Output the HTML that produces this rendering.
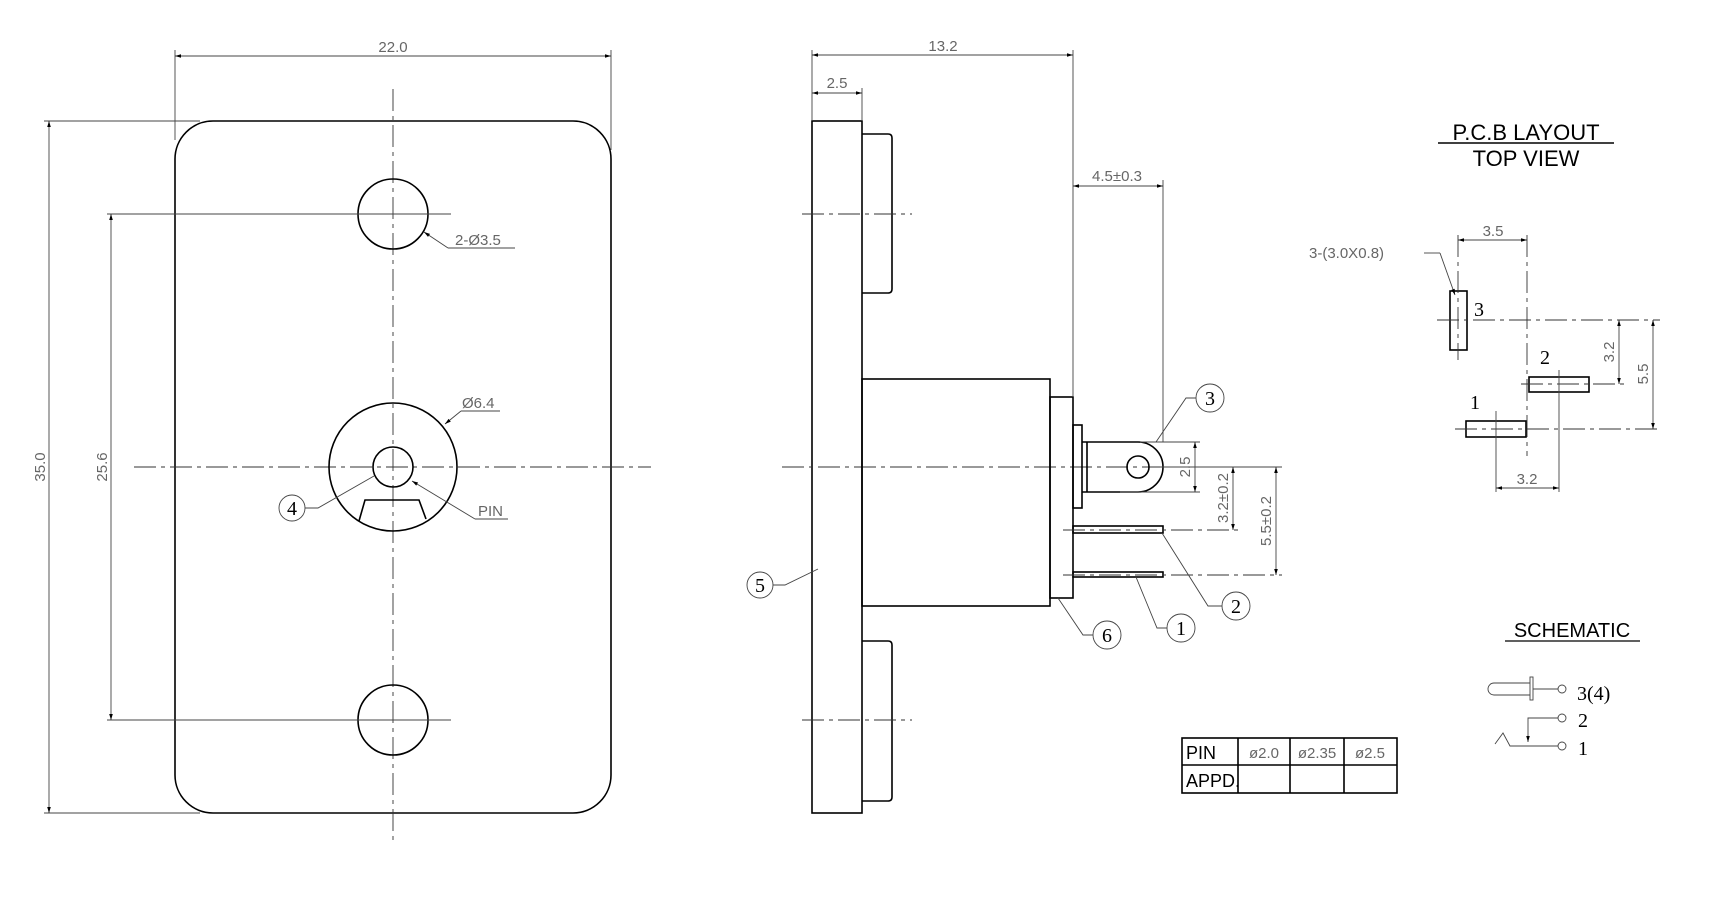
<!DOCTYPE html>
<html><head><meta charset="utf-8"><style>
html,body{margin:0;padding:0;background:#fff}
svg{display:block}
text{font-family:"Liberation Sans",sans-serif}
.d{fill:#666;font-size:15px}
.l{stroke:#000;stroke-width:1.6;fill:none}
.t{stroke:#444;stroke-width:0.9;fill:none}
.c{stroke:#333;stroke-width:0.9;fill:none;stroke-dasharray:22,5,4,5}
.n{font-family:"Liberation Serif",serif;font-size:20px;fill:#000}
</style></head><body>
<svg width="1736" height="898" viewBox="0 0 1736 898" xmlns="http://www.w3.org/2000/svg">
<defs>
<marker id="a" viewBox="0 0 10 10" refX="10" refY="5" markerWidth="10" markerHeight="6" orient="auto-start-reverse" markerUnits="userSpaceOnUse"><path d="M0,2 L10,5 L0,8z" fill="#000"/></marker>
</defs>
<!-- FRONT VIEW -->
<rect x="175" y="121" width="436" height="692" rx="38" class="l"/>
<line x1="134" y1="467" x2="651" y2="467" class="c"/>
<line x1="393" y1="89" x2="393" y2="841" class="c"/>
<circle cx="393" cy="214" r="35" class="l"/>
<circle cx="393" cy="720" r="35" class="l"/>
<circle cx="393" cy="467" r="64" class="l"/>
<circle cx="393" cy="467" r="20" class="l"/>
<path d="M359,521 L365,500 L419,500 L426,519" class="l"/>
<!-- horizontal extension lines 25.6 -->
<line x1="107" y1="214" x2="451" y2="214" class="t"/>
<line x1="107" y1="720" x2="451" y2="720" class="t"/>
<line x1="111" y1="214" x2="111" y2="720" class="t" marker-start="url(#a)" marker-end="url(#a)"/>
<text class="d" transform="translate(107,467) rotate(-90)" text-anchor="middle">25.6</text>
<!-- 35.0 -->
<line x1="44" y1="121" x2="200" y2="121" class="t"/>
<line x1="44" y1="813" x2="200" y2="813" class="t"/>
<line x1="49" y1="121" x2="49" y2="813" class="t" marker-start="url(#a)" marker-end="url(#a)"/>
<text class="d" transform="translate(45,467) rotate(-90)" text-anchor="middle">35.0</text>
<!-- 22.0 -->
<line x1="175" y1="50" x2="175" y2="140" class="t"/>
<line x1="611" y1="50" x2="611" y2="150" class="t"/>
<line x1="175" y1="56" x2="611" y2="56" class="t" marker-start="url(#a)" marker-end="url(#a)"/>
<text class="d" x="393" y="52" text-anchor="middle">22.0</text>
<!-- callouts -->
<path d="M448,248 L515,248" class="t"/><line x1="448" y1="248" x2="424" y2="232" class="t" marker-end="url(#a)"/>
<text class="d" x="455" y="245">2-Ø3.5</text>
<path d="M461,411 L500,411" class="t"/><line x1="461" y1="411" x2="445" y2="424" class="t" marker-end="url(#a)"/>
<text class="d" x="462" y="408">Ø6.4</text>
<circle cx="292" cy="508" r="13" class="t"/><text class="n" x="292" y="515" text-anchor="middle">4</text>
<path d="M305,508 L318,508 L374,476" class="t"/>
<path d="M475,519 L508,519" class="t"/><line x1="475" y1="519" x2="412" y2="481" class="t" marker-end="url(#a)"/>
<text class="d" x="478" y="516">PIN</text>
<!-- SIDE VIEW -->
<rect x="812" y="121" width="50" height="692" class="l"/>
<path d="M862,134 L888,134 Q892,134 892,138 L892,289 Q892,293 888,293 L862,293" class="l"/>
<path d="M862,641 L888,641 Q892,641 892,645 L892,797 Q892,801 888,801 L862,801" class="l"/>
<line x1="802" y1="214" x2="912" y2="214" class="c"/>
<line x1="802" y1="720" x2="912" y2="720" class="c"/>
<line x1="782" y1="467" x2="1160" y2="467" class="c"/>
<rect x="862" y="379" width="188" height="227" class="l"/>
<rect x="1050" y="397" width="23" height="201" class="l"/>
<rect x="1073" y="425" width="9" height="83" class="l"/>
<path d="M1082,442 L1138,442 A25,25 0 0 1 1138,492 L1082,492" class="l"/>
<line x1="1087" y1="442" x2="1087" y2="492" class="l"/>
<circle cx="1138" cy="467" r="11" class="l"/>
<rect x="1073" y="526" width="90" height="7" class="l" stroke-width="1.2"/>
<rect x="1073" y="572" width="90" height="5" class="l" stroke-width="1.2"/>
<line x1="1063" y1="530" x2="1240" y2="530" class="c"/>
<line x1="1063" y1="575" x2="1282" y2="575" class="c"/>
<!-- dims side -->
<line x1="812" y1="50" x2="812" y2="121" class="t"/>
<line x1="862" y1="88" x2="862" y2="121" class="t"/>
<line x1="1073" y1="50" x2="1073" y2="397" class="t"/>
<line x1="812" y1="55" x2="1073" y2="55" class="t" marker-start="url(#a)" marker-end="url(#a)"/>
<text class="d" x="943" y="51" text-anchor="middle">13.2</text>
<line x1="812" y1="93" x2="862" y2="93" class="t" marker-start="url(#a)" marker-end="url(#a)"/>
<text class="d" x="837" y="88" text-anchor="middle">2.5</text>
<line x1="1163" y1="180" x2="1163" y2="442" class="t"/>
<line x1="1073" y1="186" x2="1163" y2="186" class="t" marker-start="url(#a)" marker-end="url(#a)"/>
<text class="d" x="1117" y="181" text-anchor="middle">4.5±0.3</text>
<line x1="1140" y1="442" x2="1200" y2="442" class="t"/>
<line x1="1120" y1="492" x2="1200" y2="492" class="t"/>
<line x1="1160" y1="467" x2="1282" y2="467" class="t"/>
<line x1="1195" y1="442" x2="1195" y2="492" class="t" marker-start="url(#a)" marker-end="url(#a)"/>
<text class="d" transform="translate(1190,467) rotate(-90)" text-anchor="middle">2.5</text>
<line x1="1233" y1="467" x2="1233" y2="530" class="t" marker-start="url(#a)" marker-end="url(#a)"/>
<text class="d" transform="translate(1228,498) rotate(-90)" text-anchor="middle">3.2±0.2</text>
<line x1="1276" y1="467" x2="1276" y2="575" class="t" marker-start="url(#a)" marker-end="url(#a)"/>
<text class="d" transform="translate(1271,521) rotate(-90)" text-anchor="middle">5.5±0.2</text>
<!-- side callouts -->
<circle cx="1210" cy="398" r="14" class="t"/><text class="n" x="1210" y="405" text-anchor="middle">3</text>
<path d="M1196,398 L1186,398 L1156,442" class="t"/>
<circle cx="1236" cy="606" r="14" class="t"/><text class="n" x="1236" y="613" text-anchor="middle">2</text>
<path d="M1222,606 L1208,606 L1162,533" class="t"/>
<circle cx="1181" cy="628" r="14" class="t"/><text class="n" x="1181" y="635" text-anchor="middle">1</text>
<path d="M1167,628 L1157,628 L1136,577" class="t"/>
<circle cx="1107" cy="635" r="14" class="t"/><text class="n" x="1107" y="642" text-anchor="middle" fill="#666">6</text>
<path d="M1093,635 L1083,635 L1058,598" class="t"/>
<circle cx="760" cy="585" r="13" class="t"/><text class="n" x="760" y="592" text-anchor="middle">5</text>
<path d="M773,585 L785,585 L818,569" class="t"/>
<!-- table -->
<rect x="1182" y="738" width="215" height="55" class="l"/>
<line x1="1182" y1="765" x2="1397" y2="765" class="l"/>
<line x1="1238" y1="738" x2="1238" y2="793" class="l"/>
<line x1="1290" y1="738" x2="1290" y2="793" class="l"/>
<line x1="1344" y1="738" x2="1344" y2="793" class="l"/>
<text x="1186" y="759" font-size="18" fill="#000">PIN</text>
<text x="1186" y="787" font-size="18" fill="#000">APPD.</text>
<text class="d" x="1264" y="758" text-anchor="middle" font-size="14">ø2.0</text>
<text class="d" x="1317" y="758" text-anchor="middle" font-size="14">ø2.35</text>
<text class="d" x="1370" y="758" text-anchor="middle" font-size="14">ø2.5</text>
<!-- PCB -->
<text x="1526" y="140" text-anchor="middle" font-size="22" fill="#000">P.C.B LAYOUT</text>
<line x1="1438" y1="143" x2="1614" y2="143" stroke="#000" stroke-width="1.4"/>
<text x="1526" y="166" text-anchor="middle" font-size="22" fill="#000">TOP VIEW</text>
<rect x="1450" y="291" width="17" height="59" class="l"/>
<rect x="1529" y="377" width="60" height="15" class="l"/>
<rect x="1466" y="421" width="60" height="16" class="l"/>
<line x1="1437" y1="320" x2="1660" y2="320" class="c"/>
<line x1="1521" y1="384" x2="1628" y2="384" class="c"/>
<line x1="1455" y1="429" x2="1660" y2="429" class="c"/>
<line x1="1458" y1="235" x2="1458" y2="360" class="c"/>
<line x1="1527" y1="235" x2="1527" y2="456" class="c"/>
<line x1="1496" y1="411" x2="1496" y2="492" class="t"/>
<line x1="1559" y1="370" x2="1559" y2="492" class="t"/>
<line x1="1458" y1="240" x2="1527" y2="240" class="t" marker-start="url(#a)" marker-end="url(#a)"/>
<text class="d" x="1493" y="236" text-anchor="middle">3.5</text>
<line x1="1496" y1="488" x2="1559" y2="488" class="t" marker-start="url(#a)" marker-end="url(#a)"/>
<text class="d" x="1527" y="484" text-anchor="middle">3.2</text>
<line x1="1619" y1="320" x2="1619" y2="384" class="t" marker-start="url(#a)" marker-end="url(#a)"/>
<text class="d" transform="translate(1614,352) rotate(-90)" text-anchor="middle">3.2</text>
<line x1="1653" y1="320" x2="1653" y2="429" class="t" marker-start="url(#a)" marker-end="url(#a)"/>
<text class="d" transform="translate(1648,374) rotate(-90)" text-anchor="middle">5.5</text>
<text class="d" x="1309" y="258">3-(3.0X0.8)</text>
<path d="M1424,253 L1440,253" class="t"/><line x1="1440" y1="253" x2="1455" y2="295" class="t" marker-end="url(#a)"/>
<text class="n" x="1474" y="316" font-size="18">3</text>
<text class="n" x="1540" y="364" font-size="18">2</text>
<text class="n" x="1470" y="409" font-size="18">1</text>
<!-- SCHEMATIC -->
<text x="1572" y="637" text-anchor="middle" font-size="20" fill="#000">SCHEMATIC</text>
<line x1="1505" y1="641" x2="1640" y2="641" stroke="#000" stroke-width="1.3"/>
<path d="M1530,683 L1494,683 A6,6 0 0 0 1494,695 L1530,695" class="t"/>
<rect x="1530" y="677" width="3" height="23" class="t"/>
<line x1="1533" y1="689" x2="1558" y2="689" class="t"/>
<circle cx="1562" cy="689" r="4" class="t"/>
<text class="n" x="1577" y="700">3(4)</text>
<path d="M1558,718 L1528,718 L1528,742" class="t" marker-end="url(#a)"/>
<circle cx="1562" cy="718" r="4" class="t"/>
<text class="n" x="1578" y="727">2</text>
<path d="M1495,744 L1503,733 L1510,746 L1558,746" class="t"/>
<circle cx="1562" cy="746" r="4" class="t"/>
<text class="n" x="1578" y="755">1</text>
</svg>
</body></html>
